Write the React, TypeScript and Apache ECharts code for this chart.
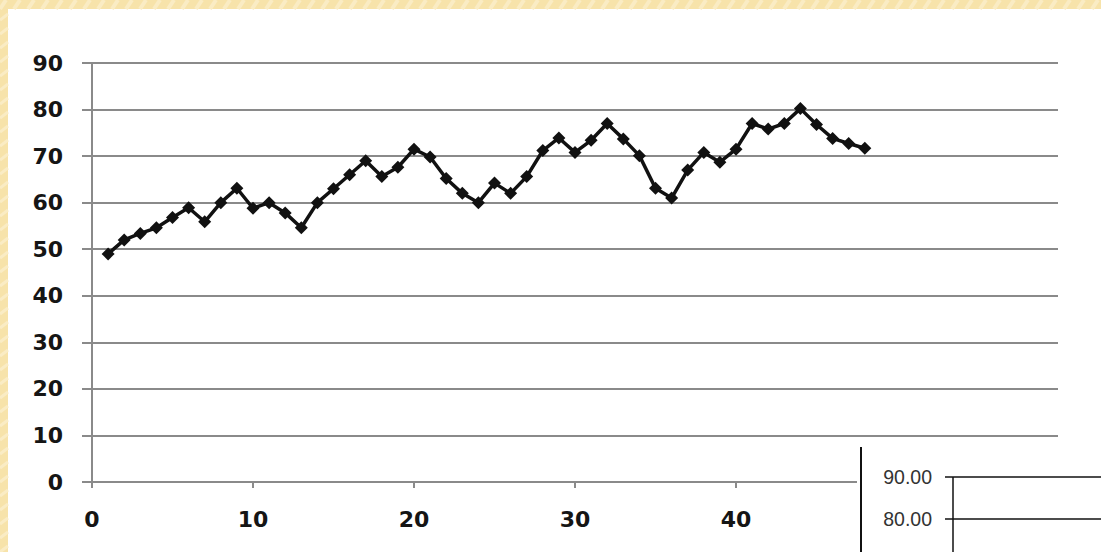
import React, { useEffect, useRef } from "react";
import * as echarts from "echarts";

const xValues: number[] = [
  1, 2, 3, 4, 5, 6, 7, 8, 9, 10, 11, 12, 13, 14, 15, 16, 17, 18, 19, 20, 21, 22, 23, 24,
  25, 26, 27, 28, 29, 30, 31, 32, 33, 34, 35, 36, 37, 38, 39, 40, 41, 42, 43, 44, 45, 46, 47, 48,
];
const yValues: number[] = [
  49, 52, 53.4, 54.6, 56.8, 58.9, 55.9, 60, 63.1, 58.8, 60, 57.8, 54.6, 60, 63, 66, 69, 65.6,
  67.6, 71.5, 69.8, 65.2, 62, 60, 64.2, 62, 65.6, 71.2, 73.9, 70.8, 73.4, 77, 73.7, 70.1, 63.1,
  61, 67, 70.8, 68.7, 71.5, 77, 75.8, 77, 80.2, 76.8, 73.8, 72.7, 71.7,
];
const xTicks: number[] = [0, 10, 20, 30, 40];
const insetLabels: string[] = ["90.00", "80.00"];

export default function App() {
  const ref = useRef<HTMLDivElement>(null);
  useEffect(() => {
    if (!ref.current) return;
    const chart = echarts.init(ref.current, undefined, { renderer: "svg" });
    const data = xValues.map((x, i) => [x, yValues[i]]);
    const beige = "#F7E3AA";
    const stripes: any[] = [];
    for (let k = 0; k < 1101; k += 14) {
      stripes.push({
        type: "line",
        z: 101,
        shape: { x1: k, y1: 9, x2: k + 6, y2: 0 },
        style: { stroke: "#FAECC4", lineWidth: 4 },
      });
    }
    for (let k = 14; k < 552; k += 14) {
      stripes.push({
        type: "line",
        z: 101,
        shape: { x1: 0, y1: k + 6, x2: 8, y2: k },
        style: { stroke: "#FAECC4", lineWidth: 3 },
      });
    }
    const inkY = [477, 519];
    const labelFont = {
      color: "#151515",
      fontFamily: "DejaVu Sans",
      fontWeight: "bold",
      fontSize: 22,
    };
    chart.setOption({
      animation: false,
      backgroundColor: "#ffffff",
      grid: { left: 92, top: 63, right: 43, bottom: 70, containLabel: false },
      xAxis: {
        type: "value",
        min: 0,
        max: 60,
        interval: 10,
        axisLine: { show: true, onZero: false, lineStyle: { color: "#8a8a8a", width: 2 } },
        axisTick: { show: true, length: 6, lineStyle: { color: "#8a8a8a", width: 2 } },
        splitLine: { show: false },
        axisLabel: {
          margin: 26,
          ...labelFont,
          formatter: (v: number) => (xTicks.indexOf(v) >= 0 ? String(v) : ""),
        },
      },
      yAxis: {
        type: "value",
        min: 0,
        max: 90,
        interval: 10,
        axisLine: { show: true, lineStyle: { color: "#8a8a8a", width: 2 } },
        axisTick: { show: true, inside: false, length: 10, lineStyle: { color: "#8a8a8a", width: 2 } },
        splitLine: { show: true, lineStyle: { color: "#8a8a8a", width: 2 } },
        axisLabel: {
          margin: 29,
          ...labelFont,
        },
      },
      series: [
        {
          type: "line",
          data,
          symbol: "diamond",
          symbolSize: 13,
          itemStyle: { color: "#111" },
          lineStyle: { color: "#111", width: 3.5 },
          z: 5,
        },
      ],
      graphic: [
        { type: "rect", z: 100, shape: { x: 0, y: 0, width: 1101, height: 9 }, style: { fill: beige } },
        { type: "rect", z: 100, shape: { x: 0, y: 0, width: 8, height: 552 }, style: { fill: beige } },
        ...stripes,
        { type: "rect", z: 100, shape: { x: 857, y: 447, width: 244, height: 105 }, style: { fill: "#ffffff" } },
        { type: "line", z: 101, shape: { x1: 861, y1: 447, x2: 861, y2: 552 }, style: { stroke: "#111", lineWidth: 2 } },
        { type: "line", z: 101, shape: { x1: 953, y1: 477, x2: 953, y2: 552 }, style: { stroke: "#111", lineWidth: 1.5 } },
        ...inkY.map((y) => ({
          type: "line",
          z: 101,
          shape: { x1: 945, y1: y, x2: 1101, y2: y },
          style: { stroke: "#111", lineWidth: 1.3 },
        })),
        ...insetLabels.map((t, i) => ({
          type: "text",
          z: 102,
          x: 932,
          y: inkY[i],
          style: {
            text: t,
            align: "right",
            verticalAlign: "middle",
            fontFamily: "Liberation Sans",
            fontSize: 19.5,
            fill: "#333",
          },
        })),
      ],
    });
    return () => chart.dispose();
  }, []);
  return (
    <div
      ref={ref}
      style={{ position: "fixed", left: 0, top: 0, width: 1101, height: 552 }}
    />
  );
}
